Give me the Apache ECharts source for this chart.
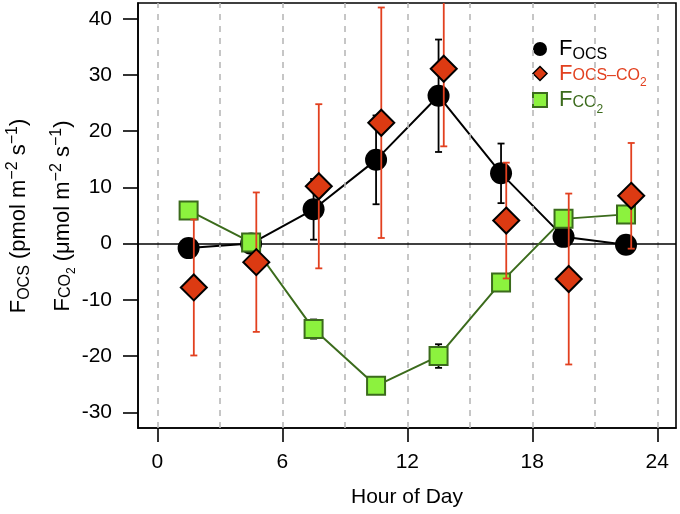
<!DOCTYPE html>
<html>
<head>
<meta charset="utf-8">
<script src="https://cdn.jsdelivr.net/npm/echarts@6/dist/echarts.min.js"></script>
<style>html,body{margin:0;padding:0;background:#fff}#c{width:680px;height:514px}</style>
</head>
<body>
<div id="c"></div>
<script>
// ---- data ----
var hours = [1.5, 4.5, 7.5, 10.5, 13.5, 16.5, 19.5, 22.5];
var hoursRed = [1.75, 4.75, 7.75, 10.75, 13.75, 16.75, 19.75, 22.75];
var ocs = [-0.8, 0.0, 6.1, 14.9, 26.3, 12.5, 1.2, -0.2];
var ocsErr = [1.2, 1.0, 5.4, 7.9, 10.0, 5.3, 1.5, 0.8];
var ocsCo2 = [-7.8, -3.3, 10.2, 21.5, 31.1, 4.1, -6.3, 8.5];
var ocsCo2Err = [12.1, 12.4, 14.6, 20.5, 13.8, 10.3, 15.2, 9.4];
var co2 = [5.9, 0.2, -15.2, -25.3, -20.0, -6.9, 4.4, 5.2];
var co2Err = [0.5, 0.5, 1.7, 0.8, 2.1, 0.6, 0.5, 0.5];
var xTicks = [0, 6, 12, 18, 24];
var xGuides = [0, 3, 6, 9, 12, 15, 18, 21, 24];
var yTicks = [-30, -20, -10, 0, 10, 20, 30, 40];
var X_MIN = -0.93, X_MAX = 24.9, Y_MIN = -32.8, Y_MAX = 42.8;

var FONT = 'Liberation Sans, Arial, Helvetica, sans-serif';
var RED = '#e2401f', RED_FILL = '#dc3a12', GREEN_FILL = '#8cf23e', GREEN_DARK = '#3b6b1c';

function zip3(a, b, c) { return a.map(function (v, i) { return [v, b[i], c[i]]; }); }
function zip2(a, b) { return a.map(function (v, i) { return [v, b[i]]; }); }

function errRender(color) {
  return function (params, api) {
    var x = api.value(0), y = api.value(1), e = api.value(2);
    var hi = Math.min(y + e, Y_MAX), lo = Math.max(y - e, Y_MIN);
    var top = api.coord([x, hi]), bot = api.coord([x, lo]);
    var hw = 3.5, st = { stroke: color, lineWidth: 1.8 };
    var ch = [{ type: 'line', shape: { x1: top[0], y1: top[1], x2: bot[0], y2: bot[1] }, style: st }];
    if (y + e <= Y_MAX) ch.push({ type: 'line', shape: { x1: top[0] - hw, y1: top[1], x2: top[0] + hw, y2: top[1] }, style: st });
    if (y - e >= Y_MIN) ch.push({ type: 'line', shape: { x1: bot[0] - hw, y1: bot[1], x2: bot[0] + hw, y2: bot[1] }, style: st });
    return { type: 'group', children: ch };
  };
}

var richAxis = {
  F: { fontSize: 22, fontFamily: FONT, lineHeight: 30, verticalAlign: 'middle' },
  s: { fontSize: 16, fontFamily: FONT, lineHeight: 16, verticalAlign: 'bottom', padding: [0, 0, 1, 0] },
  sb: { fontSize: 16, fontFamily: FONT, lineHeight: 16, verticalAlign: 'bottom', padding: [0, 0, 4, 0] },
  ss: { fontSize: 12, fontFamily: FONT, lineHeight: 12, verticalAlign: 'bottom', padding: [0, 0, 0, 0] },
  t: { fontSize: 22, fontFamily: FONT, lineHeight: 30, verticalAlign: 'middle' },
  sup: { fontSize: 16, fontFamily: FONT, lineHeight: 16, verticalAlign: 'top', padding: [1, 0, 0, 0] }
};

var richLegend = {
  F: { fontSize: 22, fontFamily: FONT, lineHeight: 27, verticalAlign: 'middle', padding: [0, 0, 0, 7] },
  s: { fontSize: 16, fontFamily: FONT, lineHeight: 16, verticalAlign: 'bottom', padding: [0, 0, 0, 0] },
  sb: { fontSize: 16, fontFamily: FONT, lineHeight: 16, verticalAlign: 'bottom', padding: [0, 0, 3, 0] },
  ss: { fontSize: 12, fontFamily: FONT, lineHeight: 12, verticalAlign: 'bottom', padding: [0, 0, -2, 0] }
};

var legendText = {
  'FOCS': '{F|F}{s|OCS}',
  'FOCS-CO2': '{F|F}{sb|OCS–CO}{ss|2}',
  'FCO2': '{F|F}{sb|CO}{ss|2}'
};

var guideLines = xGuides.map(function (h) { return { xAxis: h, lineStyle: { color: '#b8b8b8', type: [6, 6], width: 1.6 } }; });
guideLines.push({ yAxis: 0, lineStyle: { color: '#000', type: 'solid', width: 1.6 } });

var option = {
  animation: false,
  backgroundColor: '#fff',
  textStyle: { fontFamily: FONT },
  grid: { left: 138, top: 3, width: 538, height: 425, show: true, borderColor: '#000', borderWidth: 1.6, backgroundColor: 'transparent', containLabel: false },
  xAxis: {
    type: 'value', min: X_MIN, max: X_MAX,
    name: 'Hour of Day', nameLocation: 'middle', nameGap: 59,
    nameTextStyle: { fontSize: 21, color: '#000', fontFamily: FONT },
    axisLine: { show: true, onZero: false, lineStyle: { color: '#000', width: 1.6 } },
    axisTick: { show: true, inside: false, length: 14, customValues: xTicks, lineStyle: { color: '#000', width: 1.6 } },
    axisLabel: { show: true, customValues: xTicks, margin: 24, fontSize: 21, color: '#000', fontFamily: FONT },
    splitLine: { show: false }
  },
  yAxis: {
    type: 'value', min: Y_MIN, max: Y_MAX,
    axisLine: { show: true, onZero: false, lineStyle: { color: '#000', width: 1.6 } },
    axisTick: { show: true, inside: false, length: 15, customValues: yTicks, lineStyle: { color: '#000', width: 1.6 } },
    axisLabel: { show: true, customValues: yTicks, margin: 26, fontSize: 21, color: '#000', fontFamily: FONT },
    splitLine: { show: false }
  },
  legend: {
    orient: 'vertical', left: 527, top: 33, itemGap: 0,
    itemWidth: 14, itemHeight: 14, icon: 'circle',
    textStyle: { fontFamily: FONT, fontSize: 22, rich: richLegend },
    formatter: function (name) { return legendText[name]; },
    data: [
      { name: 'FOCS', icon: 'circle', itemStyle: { color: '#000', borderWidth: 0 }, textStyle: { color: '#000' } },
      { name: 'FOCS-CO2', icon: 'diamond', itemStyle: { color: RED_FILL, borderColor: '#000', borderWidth: 1.5 }, textStyle: { color: RED } },
      { name: 'FCO2', icon: 'rect', itemStyle: { color: GREEN_FILL, borderColor: GREEN_DARK, borderWidth: 2 }, textStyle: { color: GREEN_DARK } }
    ]
  },
  graphic: [
    { type: 'text', x: 19, y: 216, rotation: Math.PI / 2, silent: true,
      style: { text: '{F|F}{s|OCS}{t| (pmol m}{sup|−2}{t| s}{sup|−1}{t|)}', rich: richAxis, fill: '#000', align: 'center', verticalAlign: 'middle' } },
    { type: 'text', x: 63, y: 216, rotation: Math.PI / 2, silent: true,
      style: { text: '{F|F}{sb|CO}{ss|2}{t| (μmol m}{sup|−2}{t| s}{sup|−1}{t|)}', rich: richAxis, fill: '#000', align: 'center', verticalAlign: 'middle' } }
  ],
  series: [
    { type: 'line', name: 'guides', data: [], silent: true, z: 1,
      markLine: { silent: true, symbol: 'none', label: { show: false }, animation: false, data: guideLines } },
    { type: 'custom', name: 'FOCS err', data: zip3(hours, ocs, ocsErr), renderItem: errRender('#000'), encode: { x: 0, y: 1 }, z: 2, silent: true, clip: true },
    { type: 'line', name: 'FOCS', data: zip2(hours, ocs), symbol: 'circle', symbolSize: 22,
      itemStyle: { color: '#000' }, lineStyle: { color: '#000', width: 2 }, z: 3, silent: true },
    { type: 'custom', name: 'FCO2 err', data: zip3(hours, co2, co2Err), renderItem: errRender('#000'), encode: { x: 0, y: 1 }, z: 4, silent: true, clip: true },
    { type: 'line', name: 'FCO2', data: zip2(hours, co2), symbol: 'rect', symbolSize: 18,
      itemStyle: { color: GREEN_FILL, borderColor: GREEN_DARK, borderWidth: 2 }, lineStyle: { color: GREEN_DARK, width: 2 }, z: 5, silent: true },
    { type: 'custom', name: 'FOCS-CO2 err', data: zip3(hoursRed, ocsCo2, ocsCo2Err), renderItem: errRender(RED), encode: { x: 0, y: 1 }, z: 6, silent: true, clip: true },
    { type: 'scatter', name: 'FOCS-CO2', data: zip2(hoursRed, ocsCo2), symbol: 'diamond', symbolSize: [26, 26],
      itemStyle: { color: RED_FILL, borderColor: '#000', borderWidth: 2, opacity: 1 }, z: 7, silent: true }
  ]
};
var chart = echarts.init(document.getElementById('c'), null, { renderer: 'canvas' });
chart.setOption(option);
</script>
</body>
</html>
